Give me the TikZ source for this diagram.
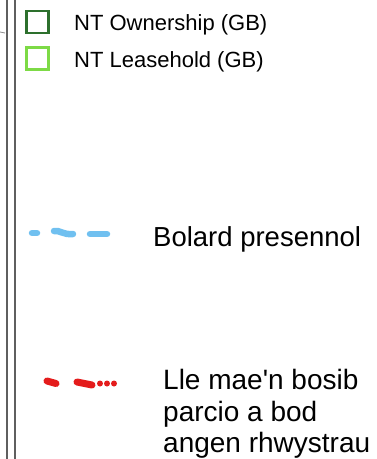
\documentclass[tikz,border=0pt]{standalone}
\usepackage{fontspec}
\setmainfont{Liberation Sans}
\usetikzlibrary{positioning}
\definecolor{ntdark}{RGB}{45,112,45}
\definecolor{ntlight}{RGB}{125,218,70}
\definecolor{bollard}{RGB}{112,192,240}
\definecolor{parkred}{RGB}{228,28,28}
\definecolor{framegray}{RGB}{95,95,95}
\tikzset{>=latex}

\begin{document}
\begin{tikzpicture}[x=1pt,y=-1pt,
    keybox/.style={draw=#1,line width=2.6pt,minimum size=22pt,inner sep=0pt},
    keytext/.style={anchor=base west,inner sep=0pt,font=\fontsize{22}{24}\selectfont},
    bigtext/.style={anchor=base west,inner sep=0pt,align=left,font=\fontsize{28}{31.5}\selectfont},
    blueline/.style={bollard,line width=6.5pt,line cap=round},
    redline/.style={parkred,line width=7pt,line cap=round}]
    \useasboundingbox (0,0) rectangle (377,459);

    % map frame edge
    \draw[framegray,line width=1.5pt] (7,0) -- (7,459);
    \draw[framegray,line width=1.5pt] (15,0) -- (15,459);
    \draw[framegray!70,line width=0.8pt] (0,32) -- (5,33);

    % land ownership keys
    \node[keybox=ntdark] (own) at (37.5,22) {};
    \node[keybox=ntlight] (lease) at (37.5,58.5) {};
    \node[keytext] (ownlbl) at (74,30) {NT Ownership (GB)};
    \node[keytext] (leaselbl) at (74,67) {NT Leasehold (GB)};

    % existing bollard
    \draw[blueline] (32,233) -- (37,233);
    \draw[blueline] (54,231) .. controls (60,230) and (63,235) .. (73,234);
    \draw[blueline] (90,234) -- (107,234);
    \node[bigtext,font=\fontsize{27.5}{33}\selectfont] (bollbl) at (153,246) {Bolard presennol};

    % possible parking
    \draw[redline] (47,381) -- (56,383.5);
    \draw[redline] (77,382) -- (92,385);
    \foreach \x in {100,107,114}
        \fill[parkred] (\x,383.5) circle (3pt);
    \node[bigtext] (parklbl) at (163,452.5) {Lle mae\textquotesingle n bosib\\parcio a bod\\angen rhwystrau};
\end{tikzpicture}
\end{document}
